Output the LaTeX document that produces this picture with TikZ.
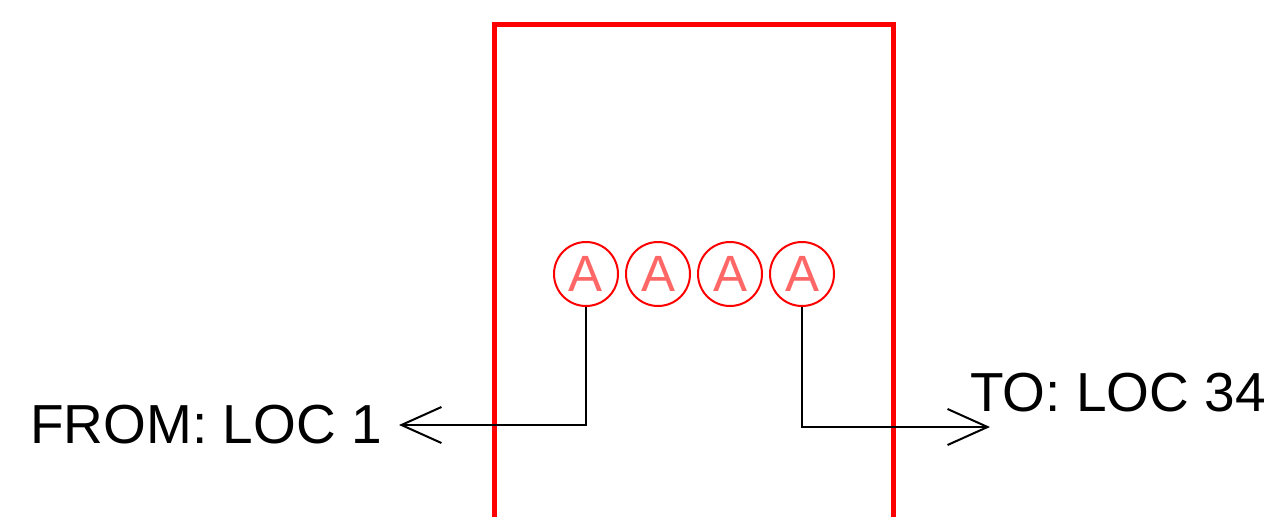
\documentclass[tikz,border=0pt]{standalone}
\usepackage{fontspec}
\setmainfont{Liberation Sans}
\usetikzlibrary{arrows.meta}
\definecolor{framered}{RGB}{255,0,0}
\definecolor{letterred}{RGB}{255,102,102}
\tikzset{
  frame/.style={draw=framered, line width=5pt},
  loc/.style={circle, draw=framered, line width=2pt, minimum size=64pt, inner sep=0pt,
    text=letterred, font=\fontsize{51}{51}\selectfont},
  conn/.style={draw=black, line width=2pt},
  barb/.style={-{Straight Barb[length=40pt,width=36pt,line width=2pt]}},
  lbl/.style={font=\fontsize{55}{55}\selectfont, inner sep=0pt}
}
\begin{document}
\begin{tikzpicture}[x=1pt,y=-1pt]
\useasboundingbox (0,0) rectangle (1279,517);
\draw[frame] (494,517) -- (494,24.5) -- (893.5,24.5) -- (893.5,517);
\node[loc] (c1) at (586,274) {A};
\node[loc] (c2) at (658,274) {A};
\node[loc] (c3) at (730,274) {A};
\node[loc] (c4) at (802,274) {A};
\coordinate (fromtip) at (399,425);
\coordinate (totip) at (990,427);
\node[lbl, anchor=base west] (from) at (30,443) {FROM: LOC 1};
\node[lbl, anchor=base west] (to) at (970,411) {TO: LOC 34};
\draw[conn, barb] (c1.south) |- (fromtip);
\draw[conn, barb] (c4.south) |- (totip);
\end{tikzpicture}
\end{document}
